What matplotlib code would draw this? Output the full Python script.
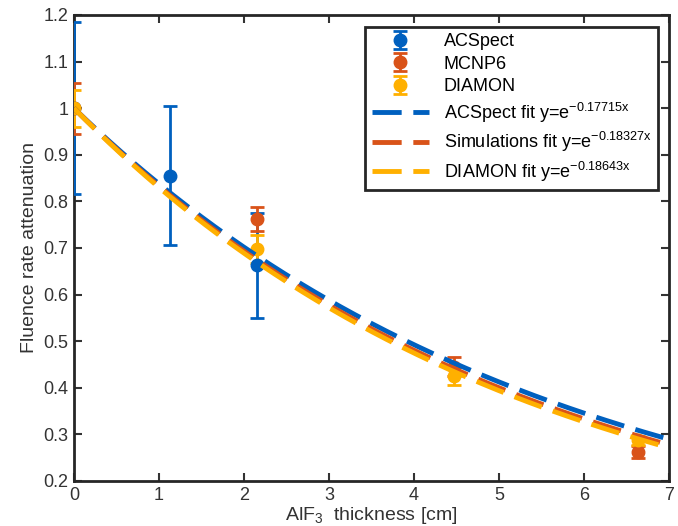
import numpy as np
import matplotlib
matplotlib.use("Agg")
import matplotlib.pyplot as plt

plt.rcParams['font.family'] = ['Liberation Sans', 'DejaVu Sans']
plt.rcParams['mathtext.fontset'] = 'custom'
plt.rcParams['mathtext.rm'] = 'Liberation Sans'
plt.rcParams['mathtext.it'] = 'Liberation Sans'

#%% data
acs_x = [0, 1.13, 2.15]
acs_y = [1.0, 0.855, 0.663]
acs_err = [0.185, 0.149, 0.113]

mcnp_x = [0, 2.15, 4.47, 6.63]
mcnp_y = [1.0, 0.762, 0.445, 0.262]
mcnp_err = [0.055, 0.025, 0.02, 0.012]

diam_x = [0, 2.15, 4.47, 6.63]
diam_y = [1.0, 0.697, 0.425, 0.287]
diam_err = [0.04, 0.03, 0.02, 0.01]

fit_labels = ["ACSpect fit y=e$^{\\mathrm{-0.17715x}}$",
              "Simulations fit y=e$^{\\mathrm{-0.18327x}}$",
              "DIAMON fit y=e$^{\\mathrm{-0.18643x}}$"]
fit_k = [0.17715, 0.18327, 0.18643]

blue = "#0060BF"
red = "#D95319"
yellow = "#FFB000"
cols = [blue, red, yellow]

#%% plot
fig = plt.figure(figsize=(6.78, 5.26), dpi=100)
ax = fig.add_axes([0.109, 0.0856, 0.878, 0.886])

h_pts = []
for xs, ys, es, c, lab in [(acs_x, acs_y, acs_err, blue, "ACSpect"),
                           (mcnp_x, mcnp_y, mcnp_err, red, "MCNP6"),
                           (diam_x, diam_y, diam_err, yellow, "DIAMON")]:
    h = ax.errorbar(xs, ys, yerr=es, fmt='o', color=c, ms=9,
                    capsize=5, elinewidth=2, capthick=2, label=lab, zorder=3)
    h_pts.append(h)

xx = np.linspace(0, 7, 300)
h_fit = []
for k, c, lab in zip(fit_k, cols, fit_labels):
    h, = ax.plot(xx, np.exp(-k * xx), '--', color=c, lw=3.5, dashes=(6, 2.4),
                 label=lab, zorder=4)
    h_fit.append(h)

ax.set_xlim(0, 7)
ax.set_ylim(0.2, 1.2)
ax.set_xticks(range(0, 8))
ax.set_yticks(np.arange(0.2, 1.21, 0.1))
ax.set_yticklabels(["0.2", "0.3", "0.4", "0.5", "0.6", "0.7", "0.8", "0.9", "1", "1.1", "1.2"])
ax.tick_params(direction='in', top=True, right=True, length=6, width=1.5,
               labelsize=13, colors='#333333', pad=4)
for s in ax.spines.values():
    s.set_linewidth(2)
    s.set_color('#262626')

ax.set_xlabel("AlF$_3$  thickness [cm]", fontsize=14, color='#333333', labelpad=1)
ax.set_ylabel("Fluence rate attenuation", fontsize=14, color='#333333')

leg = ax.legend(h_pts + h_fit, [h.get_label() for h in h_pts + h_fit],
                loc='upper right', bbox_to_anchor=(0.981, 0.974), fontsize=13,
                fancybox=False, edgecolor='#262626', framealpha=1,
                borderpad=0.35, labelspacing=0.3, handlelength=3.2,
                borderaxespad=0)
leg.get_frame().set_linewidth(2)

fig.savefig("out.png", dpi=100)
